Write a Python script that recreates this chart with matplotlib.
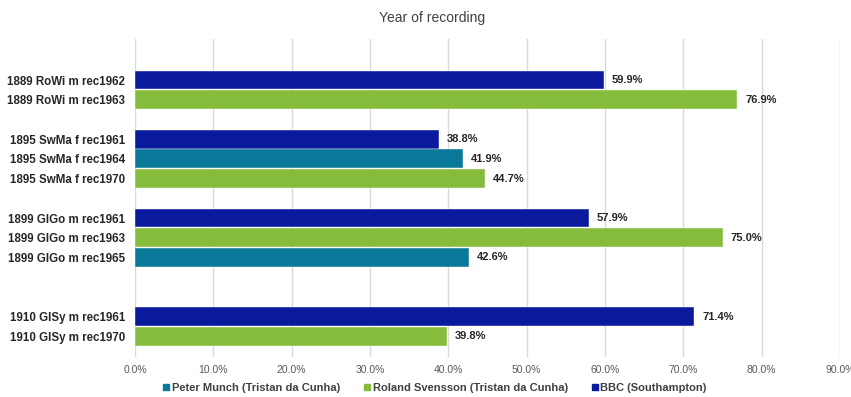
import matplotlib.pyplot as plt
from matplotlib import font_manager
import numpy as np

# data (top to bottom, "" = empty row between groups)
labels = ["1889 RoWi m rec1962", "1889 RoWi m rec1963", "",
          "1895 SwMa f rec1961", "1895 SwMa f rec1964", "1895 SwMa f rec1970", "",
          "1899 GlGo m rec1961", "1899 GlGo m rec1963", "1899 GlGo m rec1965", "", "",
          "1910 GlSy m rec1961", "1910 GlSy m rec1970"]
values = [59.9, 76.9, None,
          38.8, 41.9, 44.7, None,
          57.9, 75.0, 42.6, None, None,
          71.4, 39.8]
source = ["BBC", "Roland", None,
          "BBC", "Peter", "Roland", None,
          "BBC", "Roland", "Peter", None, None,
          "BBC", "Roland"]
series_names = {"Peter": "Peter Munch (Tristan da Cunha)",
                "Roland": "Roland Svensson (Tristan da Cunha)",
                "BBC": "BBC (Southampton)"}
colors = {"Peter": "#0a7898", "Roland": "#86bc3c", "BBC": "#0a1a9c"}
xticks = np.arange(0, 91, 10)

names = [f.name for f in font_manager.fontManager.ttflist]
narrow = "Liberation Sans Narrow" if "Liberation Sans Narrow" in names else "Liberation Sans"
plt.rcParams["font.family"] = ["Liberation Sans", "DejaVu Sans"]

fig = plt.figure(figsize=(8.51, 3.97), dpi=100)
ax = fig.add_axes([135 / 851, 1 - 357 / 397, 705 / 851, 318 / 397])

y = np.arange(len(labels))
for i, (v, s) in enumerate(zip(values, source)):
    if v is None:
        continue
    ax.barh(y[i], v, height=0.96, color=colors[s], edgecolor="white", linewidth=0.3)
    ax.text(v + 1.0, y[i], f"{v:.1f}%", va="center", ha="left",
            fontsize=8, fontweight="bold", color="#262626")

ax.set_xlim(0, 90)
ax.set_ylim(14.05, -2.08)
ax.set_yticks(y)
ax.set_yticklabels(labels, fontsize=8.3, fontweight="bold", color="#262626")
ax.set_xticks(xticks)
ax.set_xticklabels([f"{t:.1f}%" for t in xticks], fontsize=7.5, color="#595959",
                   family=narrow)
ax.tick_params(length=0, pad=6)
ax.tick_params(axis="y", pad=7)
ax.grid(axis="x", color="#d9d9d9", linewidth=1)
ax.set_axisbelow(True)
for sp in ax.spines.values():
    sp.set_visible(False)

fig.text(432 / 851, 1 - 18 / 397, "Year of recording", ha="center", va="center",
         fontsize=10, color="#404040")

handles = [plt.Rectangle((0, 0), 1, 1, color=colors[k]) for k in ["Peter", "Roland", "BBC"]]
fig.legend(handles, [series_names[k] for k in ["Peter", "Roland", "BBC"]],
           loc="center", bbox_to_anchor=(435 / 851, 1 - 388 / 397), ncol=3,
           frameon=False, handlelength=0.55, handleheight=0.55, handletextpad=0.2,
           columnspacing=2.2, prop={"family": narrow, "weight": "bold", "size": 8},
           labelcolor="#404040")

fig.savefig("out.png", dpi=100)
